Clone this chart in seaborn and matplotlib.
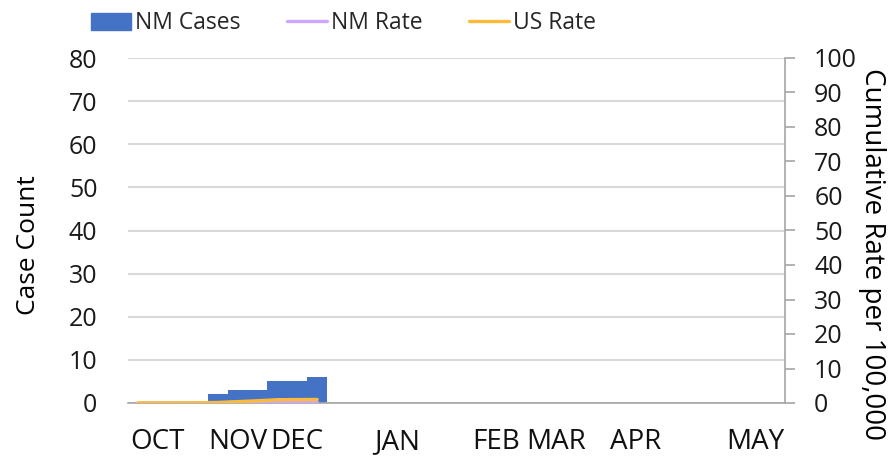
import numpy as np
import pandas as pd
import seaborn as sns
import matplotlib.pyplot as plt
from matplotlib.patches import Patch
from matplotlib.lines import Line2D

# MMWR weeks of the season (week 40 through week 20)
weeks = list(range(40, 53)) + list(range(1, 21))
# cumulative NM case counts (only weeks 44-49 reported)
nm_cases = [np.nan] * 4 + [2, 3, 3, 5, 5, 6] + [np.nan] * 23
# cumulative rates per 100,000 (weeks 40-49)
nm_rate = [0.0, 0.0, 0.0, 0.0, 0.1, 0.14, 0.14, 0.24, 0.24, 0.29]
us_rate = [0.05, 0.05, 0.06, 0.08, 0.15, 0.4, 0.65, 0.95, 1.0, 1.02]
month_pos = [1, 5, 8, 13, 18, 21, 25, 31]
month_labels = ['OCT', 'NOV', 'DEC', 'JAN', 'FEB', 'MAR', 'APR', 'MAY']

sns.set_theme(style='white')
plt.rcParams['font.family'] = ['Open Sans', 'DejaVu Sans']

df = pd.DataFrame({'week': [str(w) for w in weeks], 'cases': nm_cases})
rates = pd.DataFrame({'pos': np.arange(len(nm_rate)), 'nm': nm_rate, 'us': us_rate})

fig = plt.figure(figsize=(8.93, 4.59), dpi=100)
ax = fig.add_axes([128 / 893, 56 / 459, 657 / 893, 345 / 459])

sns.barplot(data=df, x='week', y='cases', color='#4472C4', width=1.0,
            saturation=1, ax=ax, linewidth=0)
ax.set_xlim(-0.5, len(weeks) - 0.5)
ax.set_ylim(0, 80)
ax.set_yticks(range(0, 81, 10))
ax.yaxis.grid(True, color='#d9d9d9', linewidth=1.5)
ax.set_axisbelow(True)
for s in ['top', 'right', 'left']:
    ax.spines[s].set_visible(False)
ax.spines['bottom'].set_color('#a6a6a6')
ax.spines['bottom'].set_linewidth(1.2)
ax.set_xticks(month_pos)
ax.set_xticklabels(month_labels)
ax.tick_params(axis='x', length=0, pad=18, labelsize=20, colors='#111111')
ax.tick_params(axis='y', length=0, pad=22, labelsize=18, colors='#1a1a1a')
ax.set_xlabel('')
ax.set_ylabel('Case Count', fontsize=19, color='black')
ax.yaxis.set_label_coords(-0.132, 0.458)

ax2 = ax.twinx()
sns.lineplot(data=rates, x='pos', y='nm', color='#CCA6FF', linewidth=2.4, ax=ax2)
sns.lineplot(data=rates, x='pos', y='us', color='#FFBA3A', linewidth=2.4, ax=ax2)
ax2.set_ylim(0, 100)
ax2.set_yticks(range(0, 101, 10))
ax2.set_xlim(-0.5, len(weeks) - 0.5)
for s in ['top', 'left', 'bottom']:
    ax2.spines[s].set_visible(False)
ax2.spines['right'].set_color('#a6a6a6')
ax2.spines['right'].set_linewidth(1.2)
ax2.tick_params(axis='y', direction='out', length=7, width=1.2, color='#a6a6a6',
                pad=14, labelsize=18, labelcolor='#1a1a1a')
ax2.set_ylabel('Cumulative Rate per 100,000', fontsize=20, rotation=-90, color='black')
ax2.yaxis.set_label_coords(1.153, 0.432)

handles = [Patch(color='#4472C4'),
           Line2D([], [], color='#CCA6FF', linewidth=2.4),
           Line2D([], [], color='#FFBA3A', linewidth=2.4)]
fig.legend(handles, ['NM Cases', 'NM Rate', 'US Rate'], loc='upper left',
           bbox_to_anchor=(70 / 893, 1.02), ncol=3, frameon=False, fontsize=16.5,
           handlelength=1.75, handleheight=0.8, handletextpad=0.2, columnspacing=2.0)

fig.savefig('out.png', dpi=100)
